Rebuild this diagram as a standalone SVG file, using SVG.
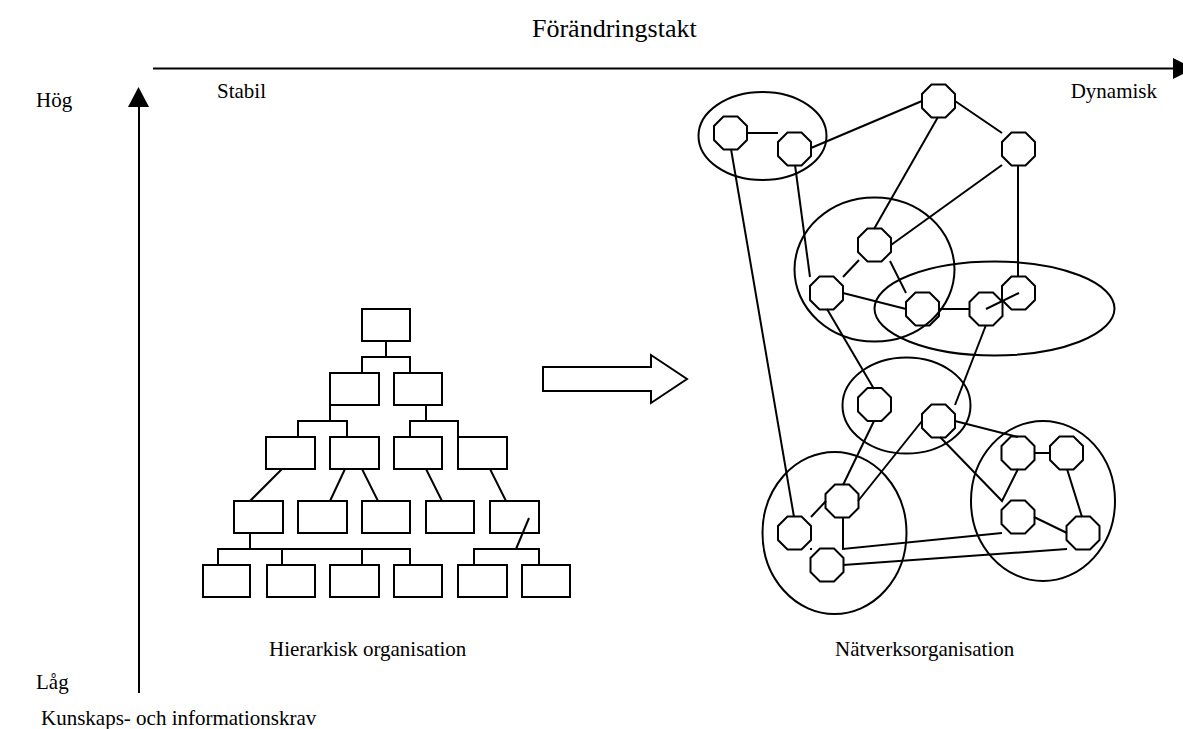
<svg xmlns="http://www.w3.org/2000/svg" xmlns:xlink="http://www.w3.org/1999/xlink" width="1183" height="729" viewBox="0 0 1183 729">
<style>
.t{font-family:"Liberation Serif","Times New Roman",serif;font-size:21px;fill:#000}
.ttl{font-size:26px}
.ln{stroke:#000;stroke-width:2;fill:none}
.bx{stroke:#000;stroke-width:2;fill:none}
.oc{stroke:#000;stroke-width:2;fill:none}
.el{stroke:#000;stroke-width:2;fill:none}
.ah{fill:#000;stroke:none}
</style>
<defs>
<polygon id="oct" points="-7,-16.5 7,-16.5 16.5,-7 16.5,7 7,16.5 -7,16.5 -16.5,7 -16.5,-7"/>
</defs>
<rect width="1183" height="729" fill="#fff"/>

<g id="axes">
<line class="ln" x1="153" y1="68.5" x2="1174" y2="68.5"/>
<polygon class="ah" points="1173,58 1173,79 1194,68.5"/>
<line class="ln" x1="139" y1="106" x2="139" y2="693"/>
<polygon class="ah" points="128,107 149,107 138.5,87"/>
</g>

<g id="labels">
<text class="t ttl" x="532" y="37">Förändringstakt</text>
<text class="t" x="36" y="107">Hög</text>
<text class="t" x="217" y="98">Stabil</text>
<text class="t" x="1157" y="98" text-anchor="end">Dynamisk</text>
<text class="t" x="36" y="689">Låg</text>
<text class="t" x="41" y="725">Kunskaps- och informationskrav</text>
<text class="t" x="269" y="656">Hierarkisk organisation</text>
<text class="t" x="835" y="656">Nätverksorganisation</text>
</g>

<g id="big-arrow">
<polygon class="bx" points="543,367 651,367 651,355 687,379 651,403 651,391 543,391"/>
</g>

<g id="hierarchy-connectors">
<polyline class="ln" points="386,341 386,357"/>
<polyline class="ln" points="362,373 362,357 410,357 410,373"/>
<polyline class="ln" points="330,405 330,421"/>
<polyline class="ln" points="298,437 298,421 347,421 347,437"/>
<polyline class="ln" points="426,405 426,421"/>
<polyline class="ln" points="410,437 410,421 458,421 458,437"/>
<line class="ln" x1="282" y1="469" x2="250" y2="501"/>
<line class="ln" x1="345" y1="469" x2="330" y2="501"/>
<line class="ln" x1="362" y1="469" x2="378" y2="501"/>
<line class="ln" x1="426" y1="469" x2="442" y2="501"/>
<line class="ln" x1="490" y1="469" x2="506" y2="501"/>
<polyline class="ln" points="250,533 250,549"/>
<polyline class="ln" points="218,565 218,549 410,549 410,565"/>
<line class="ln" x1="282" y1="549" x2="282" y2="565"/>
<line class="ln" x1="362" y1="549" x2="362" y2="565"/>
<polyline class="ln" points="474,565 474,549 539,549 539,565"/>
<line class="ln" x1="529" y1="518" x2="516" y2="549"/>
</g>

<g id="hierarchy-boxes">
<rect id="h1" class="bx" x="362" y="309" width="48" height="32"/>
<rect id="h2a" class="bx" x="330" y="373" width="49" height="32"/>
<rect id="h2b" class="bx" x="394" y="373" width="48" height="32"/>
<rect id="h3a" class="bx" x="266" y="437" width="49" height="32"/>
<rect id="h3b" class="bx" x="330" y="437" width="49" height="32"/>
<rect id="h3c" class="bx" x="394" y="437" width="48" height="32"/>
<rect id="h3d" class="bx" x="458" y="437" width="49" height="32"/>
<rect id="h4a" class="bx" x="234" y="501" width="49" height="32"/>
<rect id="h4b" class="bx" x="298" y="501" width="49" height="32"/>
<rect id="h4c" class="bx" x="362" y="501" width="48" height="32"/>
<rect id="h4d" class="bx" x="426" y="501" width="48" height="32"/>
<rect id="h4e" class="bx" x="490" y="501" width="49" height="32"/>
<rect id="h5a" class="bx" x="203" y="565" width="47" height="32"/>
<rect id="h5b" class="bx" x="267" y="565" width="48" height="32"/>
<rect id="h5c" class="bx" x="330" y="565" width="49" height="32"/>
<rect id="h5d" class="bx" x="394" y="565" width="48" height="32"/>
<rect id="h5e" class="bx" x="458" y="565" width="49" height="32"/>
<rect id="h5f" class="bx" x="522" y="565" width="48" height="32"/>
</g>

<g id="clusters">
<ellipse id="e1" class="el" cx="762.5" cy="136" rx="64" ry="44"/>
<ellipse id="e2" class="el" cx="874.5" cy="269.5" rx="80" ry="72"/>
<ellipse id="e3" class="el" cx="994.5" cy="308.5" rx="120" ry="47"/>
<ellipse id="e4" class="el" cx="906.5" cy="405.5" rx="64" ry="48"/>
<ellipse id="e5" class="el" cx="834.5" cy="533" rx="72" ry="81"/>
<ellipse id="e6" class="el" cx="1043" cy="501" rx="72" ry="80"/>
</g>

<g id="network-connectors">
<line class="ln" x1="747" y1="133" x2="778" y2="133"/>
<line class="ln" x1="811" y1="148" x2="922" y2="101"/>
<line class="ln" x1="955" y1="101" x2="1002" y2="133"/>
<line class="ln" x1="938" y1="117" x2="874" y2="229"/>
<line class="ln" x1="1002" y1="165" x2="891" y2="245"/>
<line class="ln" x1="1018" y1="165" x2="1018" y2="277"/>
<line class="ln" x1="859" y1="260" x2="843" y2="277"/>
<line class="ln" x1="890" y1="261" x2="906" y2="293"/>
<line class="ln" x1="843" y1="293" x2="906" y2="309"/>
<line class="ln" x1="939" y1="309" x2="970" y2="309"/>
<line class="ln" x1="986" y1="309" x2="1019" y2="293"/>
<line class="ln" x1="795" y1="165" x2="810" y2="277"/>
<line class="ln" x1="731" y1="149" x2="794" y2="517"/>
<line class="ln" x1="827" y1="309" x2="874" y2="389"/>
<line class="ln" x1="986" y1="325" x2="955" y2="405"/>
<line class="ln" x1="874" y1="421" x2="843" y2="485"/>
<line class="ln" x1="922" y1="421" x2="858" y2="501"/>
<line class="ln" x1="826" y1="501" x2="811" y2="517"/>
<polyline class="ln" points="843,517 843,549 1002,533"/>
<line class="ln" x1="843" y1="565" x2="1067" y2="549"/>
<line class="ln" x1="955" y1="421" x2="1018" y2="437"/>
<polyline class="ln" points="940,437 1002,501 1018,469"/>
<line class="ln" x1="1034" y1="453" x2="1051" y2="453"/>
<line class="ln" x1="1067" y1="469" x2="1082" y2="517"/>
<line class="ln" x1="1034" y1="517" x2="1067" y2="533"/>
<rect x="810" y="548" width="2" height="2" fill="#000"/>
</g>

<g id="n1"><use xlink:href="#oct" class="oc" x="730.5" y="133"/></g>
<g id="n2"><use xlink:href="#oct" class="oc" x="794.5" y="149"/></g>
<g id="n3"><use xlink:href="#oct" class="oc" x="938.5" y="101"/></g>
<g id="n4"><use xlink:href="#oct" class="oc" x="1018.5" y="149"/></g>
<g id="n5"><use xlink:href="#oct" class="oc" x="874.5" y="245"/></g>
<g id="n6"><use xlink:href="#oct" class="oc" x="826.5" y="293"/></g>
<g id="n7"><use xlink:href="#oct" class="oc" x="922.5" y="309"/></g>
<g id="n8"><use xlink:href="#oct" class="oc" x="986" y="309"/></g>
<g id="n9"><use xlink:href="#oct" class="oc" x="1018.5" y="293"/></g>
<g id="n10"><use xlink:href="#oct" class="oc" x="874.5" y="404.5"/></g>
<g id="n11"><use xlink:href="#oct" class="oc" x="938.5" y="421"/></g>
<g id="n12"><use xlink:href="#oct" class="oc" x="842" y="501"/></g>
<g id="n13"><use xlink:href="#oct" class="oc" x="794.5" y="533"/></g>
<g id="n14"><use xlink:href="#oct" class="oc" x="827" y="565"/></g>
<g id="n15"><use xlink:href="#oct" class="oc" x="1018" y="453"/></g>
<g id="n16"><use xlink:href="#oct" class="oc" x="1066.5" y="453"/></g>
<g id="n17"><use xlink:href="#oct" class="oc" x="1018" y="517"/></g>
<g id="n18"><use xlink:href="#oct" class="oc" x="1083" y="533"/></g>
</svg>
